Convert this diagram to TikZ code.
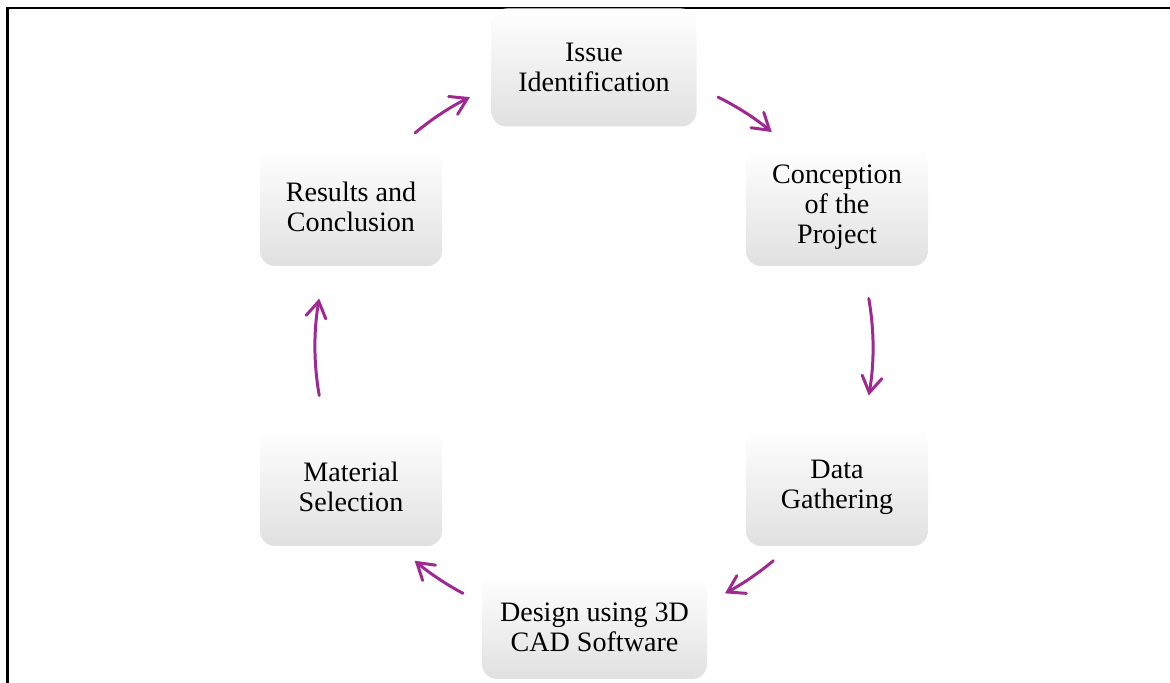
\documentclass[tikz,border=0pt]{standalone}
\usepackage{fontspec}
\setmainfont{Liberation Serif}
\usetikzlibrary{arrows.meta}
\definecolor{cycpurple}{RGB}{158,42,145}
\tikzset{
  stage/.style={rounded corners=0.3cm, top color=white, middle color=white,
    bottom color=black!12, inner sep=0pt, align=center,
    minimum height=2.36cm, minimum width=3.64cm,
    font=\fontsize{16}{17}\selectfont},
  cyc/.style={cycpurple, line width=1.7pt, line cap=round,
    -{Straight Barb[length=3.2mm, width=4mm, line cap=round]}}
}
\begin{document}
\begin{tikzpicture}
\useasboundingbox (0,0) rectangle (23.4,-13.66);
\draw[line width=1.4pt] (0.15,-13.8) -- (0.15,-0.16) -- (23.6,-0.16);

\node[stage, minimum width=4.1cm] (issue) at (11.88,-1.35) {Issue\\Identification};
\node[stage] (concept) at (16.74,-4.14) {Conception\\of the\\Project};
\node[stage] (data) at (16.74,-9.74) {Data\\Gathering};
\node[stage, minimum width=4.5cm, minimum height=2.08cm] (design) at (11.89,-12.54) {Design using 3D\\CAD Software};
\node[stage] (material) at (7.02,-9.74) {Material\\Selection};
\node[stage] (results) at (7.02,-4.14) {Results and\\Conclusion};

% arrows run on one circle round the middle
\coordinate (c) at (11.88,-6.94);
\draw[cyc] (c) ++(63.6:5.58) arc[start angle=63.6, end angle=50.4, radius=5.58];
\draw[cyc] (c) ++(10:5.58) arc[start angle=10, end angle=-10, radius=5.58];
\draw[cyc] (c) ++(-50:5.58) arc[start angle=-50, end angle=-62, radius=5.58];
\draw[cyc] (c) ++(-118:5.58) arc[start angle=-118, end angle=-130, radius=5.58];
\draw[cyc] (c) ++(190:5.58) arc[start angle=190, end angle=170, radius=5.58];
\draw[cyc] (c) ++(129.9:5.58) arc[start angle=129.9, end angle=116.4, radius=5.58];
\end{tikzpicture}
\end{document}
